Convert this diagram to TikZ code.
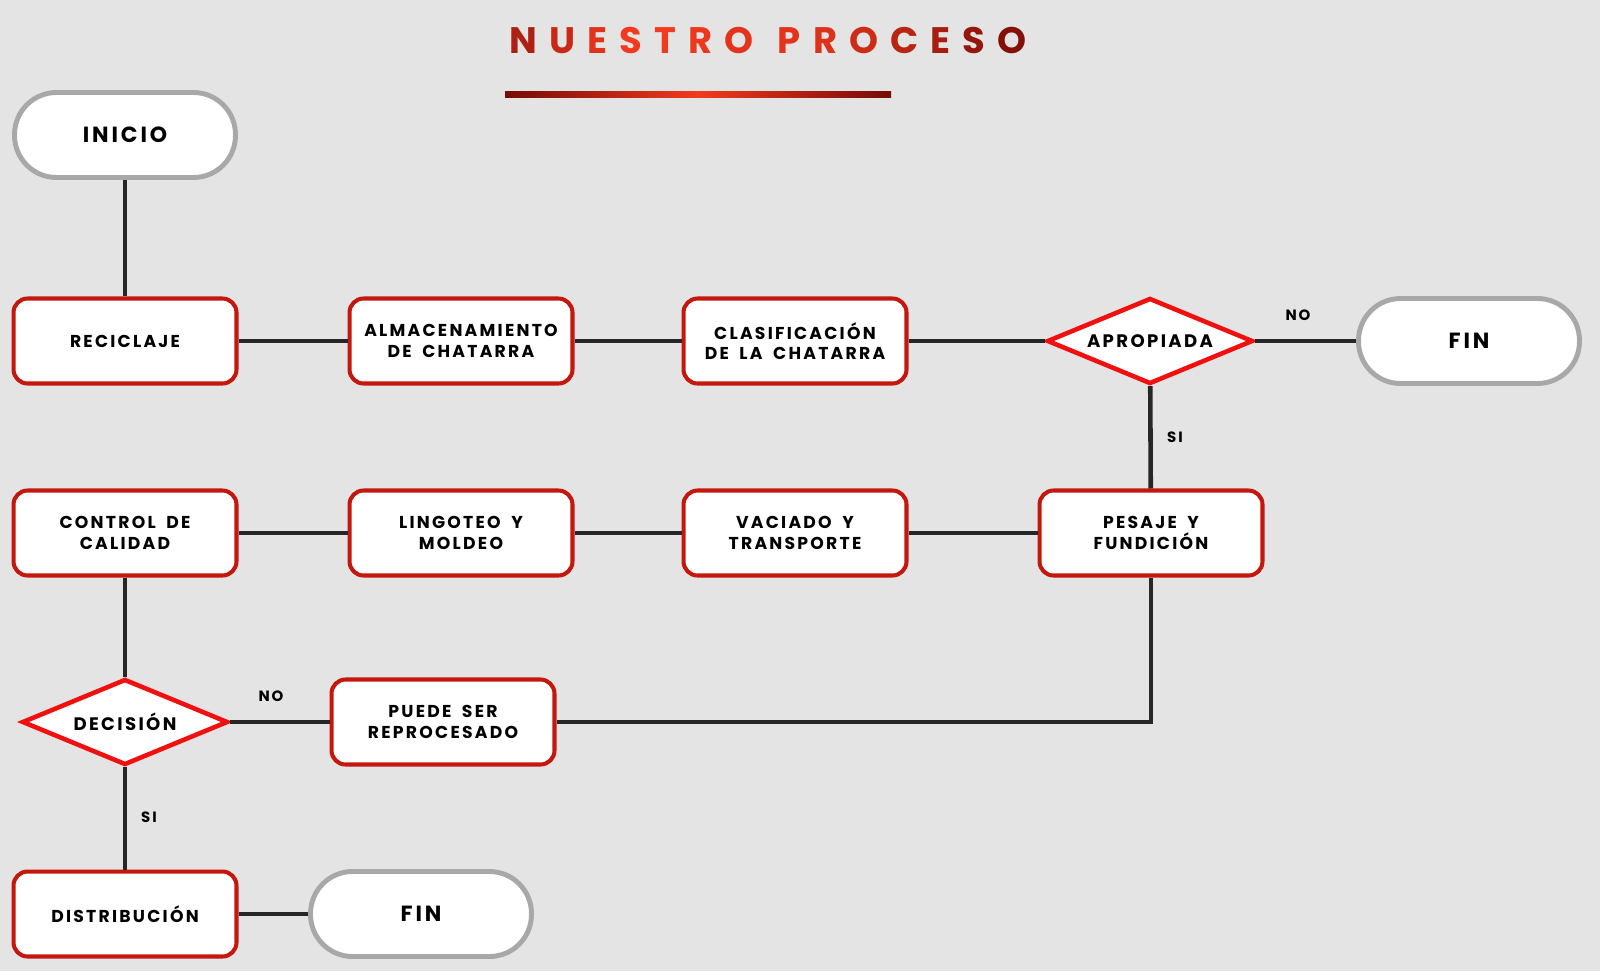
\documentclass[tikz,border=0pt]{standalone}
\usepackage{fontspec}
\setmainfont{Poppins}
\newfontfamily\titlefont{Poppins}
\newfontfamily\boxfont{Poppins}[LetterSpace=13, WordSpace=1.8]
\usetikzlibrary{shapes.geometric}

\definecolor{bggray}{RGB}{228,228,228}
\definecolor{boxred}{RGB}{196,24,14}
\definecolor{diared}{RGB}{240,16,16}
\definecolor{termgray}{RGB}{168,168,168}
\definecolor{linegray}{RGB}{38,38,38}
\definecolor{titlered}{RGB}{242,58,30}
\definecolor{titledark}{RGB}{118,10,6}

% one letter of the title, mixed between bright and dark red, then spaced
\newcommand{\tlet}[2]{\textcolor{titlered!#1!titledark}{#2}\kern 6.9pt\relax}

\tikzset{
    stepbox/.style={draw=boxred, line width=2.3pt, fill=white, rounded corners=0.28cm,
        minimum width=4.46cm, minimum height=1.7cm, align=center,
        font=\boxfont\bfseries\fontsize{9.8}{11.6}\selectfont},
    decision/.style={diamond, draw=diared, line width=2.6pt, fill=white, inner sep=0pt,
        aspect=2.4, minimum width=4.12cm, minimum height=1.72cm,
        font=\boxfont\bfseries\fontsize{10.3}{12}\selectfont},
    terminal/.style={rectangle, draw=termgray, line width=2.8pt, fill=white,
        rounded corners=0.84cm, minimum width=4.42cm, minimum height=1.7cm,
        font=\boxfont\bfseries\fontsize{12.5}{14}\selectfont},
    answer/.style={font=\boxfont\bfseries\fontsize{8.5}{10}\selectfont},
    link/.style={draw=linegray, line width=2.6pt}
}

\begin{document}
\begin{tikzpicture}[x=0.02cm, y=-0.02cm]
    % background
    \fill[bggray] (0,0) rectangle (1600,971);
    \useasboundingbox (0,0) rectangle (1600,971);

    % title
    \node (title) at (768,40) {\titlefont\bfseries\fontsize{21}{24}\selectfont
        \tlet{45}{N}\tlet{65}{U}\tlet{85}{E}\tlet{100}{S}\tlet{100}{T}\tlet{95}{R}\tlet{88}{O}%
        \kern 7pt%
        \tlet{88}{P}\tlet{82}{R}\tlet{70}{O}\tlet{55}{C}\tlet{40}{E}\tlet{25}{S}%
        \textcolor{titlered!12!titledark}{O}};
    \shade[left color=titledark, right color=titledark, middle color=titlered]
        (505,91) rectangle (891,97);

    % first row
    \node[terminal] (inicio) at (125,135) {INICIO};
    \node[stepbox] (reciclaje) at (125,341) {RECICLAJE};
    \node[stepbox] (almacen) at (461,341) {ALMACENAMIENTO\\DE CHATARRA};
    \node[stepbox] (clasif) at (795,341) {CLASIFICACIÓN\\DE LA CHATARRA};
    \node[decision] (apropiada) at (1150,341) {APROPIADA};
    \node[terminal] (fintop) at (1469,341) {FIN};

    % second row
    \node[stepbox] (control) at (125,533) {CONTROL DE\\CALIDAD};
    \node[stepbox] (lingoteo) at (461,533) {LINGOTEO Y\\MOLDEO};
    \node[stepbox] (vaciado) at (795,533) {VACIADO Y\\TRANSPORTE};
    \node[stepbox] (pesaje) at (1151,533) {PESAJE Y\\FUNDICIÓN};

    % third and fourth row
    \node[decision] (decision) at (125,722) {DECISIÓN};
    \node[stepbox] (reproceso) at (443,722) {PUEDE SER\\REPROCESADO};
    \node[stepbox] (distrib) at (125,914) {DISTRIBUCIÓN};
    \node[terminal] (finbottom) at (421,914) {FIN};

    % answers
    \node[answer] (noA) at (1298,315) {NO};
    \node[answer] (siA) at (1175,437) {SI};
    \node[answer] (noB) at (271,696) {NO};
    \node[answer] (siB) at (149,817) {SI};

    % connectors
    \draw[link] (inicio) -- (reciclaje);
    \draw[link] (reciclaje) -- (almacen);
    \draw[link] (almacen) -- (clasif);
    \draw[link] (clasif) -- (apropiada);
    \draw[link] (apropiada) -- (fintop);
    \draw[link] (apropiada) -- (pesaje);
    \draw[link] (pesaje) -- (vaciado);
    \draw[link] (vaciado) -- (lingoteo);
    \draw[link] (lingoteo) -- (control);
    \draw[link] (control) -- (decision);
    \draw[link] (decision) -- (reproceso);
    \draw[link] (reproceso.east) -| (pesaje.south);
    \draw[link] (decision) -- (distrib);
    \draw[link] (distrib) -- (finbottom);
\end{tikzpicture}
\end{document}
